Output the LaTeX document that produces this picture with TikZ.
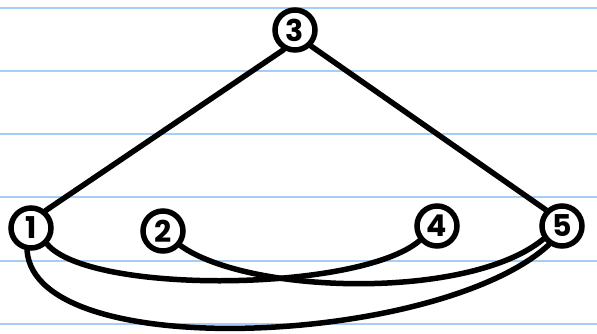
\documentclass[tikz,border=0pt]{standalone}
\usepackage{fontspec}
\setmainfont{Poppins}

\definecolor{paperblue}{RGB}{165,205,245}

\tikzstyle{vertex} = [draw=black, fill=white, line width=5.5pt,
    circle, inner sep=0pt, minimum size=40pt,
    font=\fontsize{30}{30}\selectfont\bfseries]
\tikzstyle{edge} = [draw=black, line width=5.5pt, line cap=round]
\tikzstyle{ruling} = [draw=paperblue, line width=1.5pt]

\begin{document}
\begin{tikzpicture}[x=1pt, y=-1pt]
\useasboundingbox (0,0) rectangle (597,334);
% lined paper
\foreach \y in {8,71,134,197,261,324}
    \draw[ruling] (0,\y) -- (597,\y);

% vertices
\node[vertex] (v3) at (295,30) {3};
\node[vertex] (v1) at (31,228) {1};
\node[vertex] (v2) at (163,231) {2};
\node[vertex] (v4) at (437,226) {4};
\node[vertex] (v5) at (562,226) {5};

% edges
\draw[edge] (v3.240) -- (v1.50);
\draw[edge] (v3.-45) -- (v5.135);
\draw[edge] (v1.-45) .. controls (90,295) and (360,292) .. (v4.-140);
\draw[edge] (v2.-40) .. controls (250,295) and (470,300) .. (v5.-145);
\draw[edge] (v1.-100) .. controls (35,365) and (440,345) .. (v5.-125);
\end{tikzpicture}
\end{document}
